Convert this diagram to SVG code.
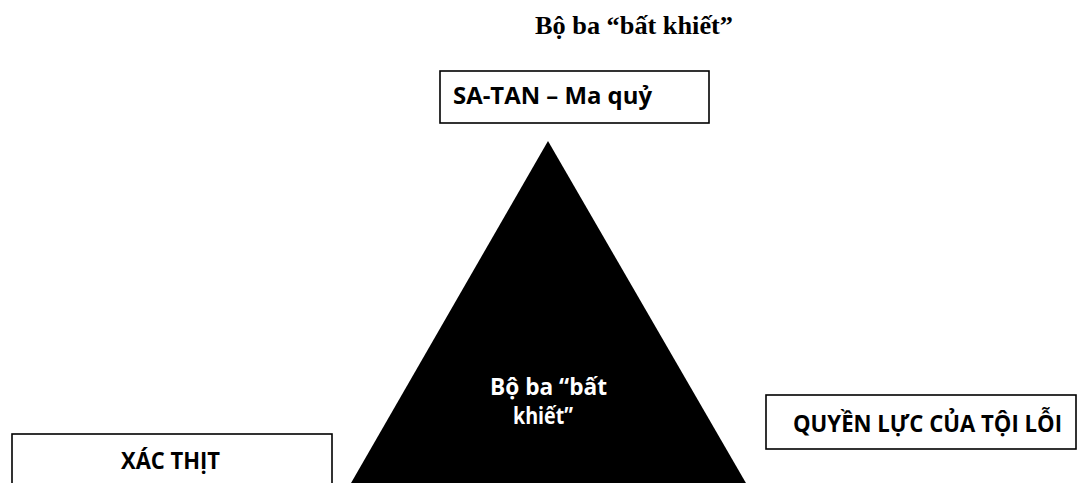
<svg xmlns="http://www.w3.org/2000/svg" width="1077" height="483" viewBox="0 0 1077 483">
  <style>
    .box { fill: #ffffff; stroke: #000000; stroke-width: 1.6; }
    .lbl { font-family: "Open Sans", "Noto Sans", "Liberation Sans", sans-serif; font-weight: bold; font-size: 23px; fill: #000000; }
    .inv { fill: #ffffff; text-anchor: middle; }
    .title { font-family: "Liberation Serif", "Times New Roman", serif; font-weight: bold; font-size: 25px; fill: #000000; }
  </style>
  <rect x="0" y="0" width="1077" height="483" fill="#ffffff"/>
  <text class="title" x="535" y="34" textLength="198" lengthAdjust="spacingAndGlyphs">Bộ ba “bất khiết”</text>
  <g id="triangle">
    <polygon points="548,141 347,490 750,490" fill="#000000"/>
    <text class="lbl inv" x="548.5" y="395" textLength="117" lengthAdjust="spacingAndGlyphs">Bộ ba “bất</text>
    <text class="lbl inv" x="543" y="424" textLength="60" lengthAdjust="spacingAndGlyphs">khiết”</text>
  </g>
  <g id="satan">
    <rect class="box" x="440" y="71" width="269" height="52"/>
    <text class="lbl" x="453" y="104" textLength="199" lengthAdjust="spacingAndGlyphs">SA-TAN – Ma quỷ</text>
  </g>
  <g id="quyenluc">
    <rect class="box" x="766" y="395" width="310" height="54"/>
    <text class="lbl" x="793" y="432" textLength="269" lengthAdjust="spacingAndGlyphs">QUYỀN LỰC CỦA TỘI LỖI</text>
  </g>
  <g id="xacthit">
    <rect class="box" x="12" y="434" width="320" height="60"/>
    <text class="lbl" x="121" y="469" textLength="99" lengthAdjust="spacingAndGlyphs">XÁC THỊT</text>
  </g>
  <g id="connectors"></g>
</svg>
